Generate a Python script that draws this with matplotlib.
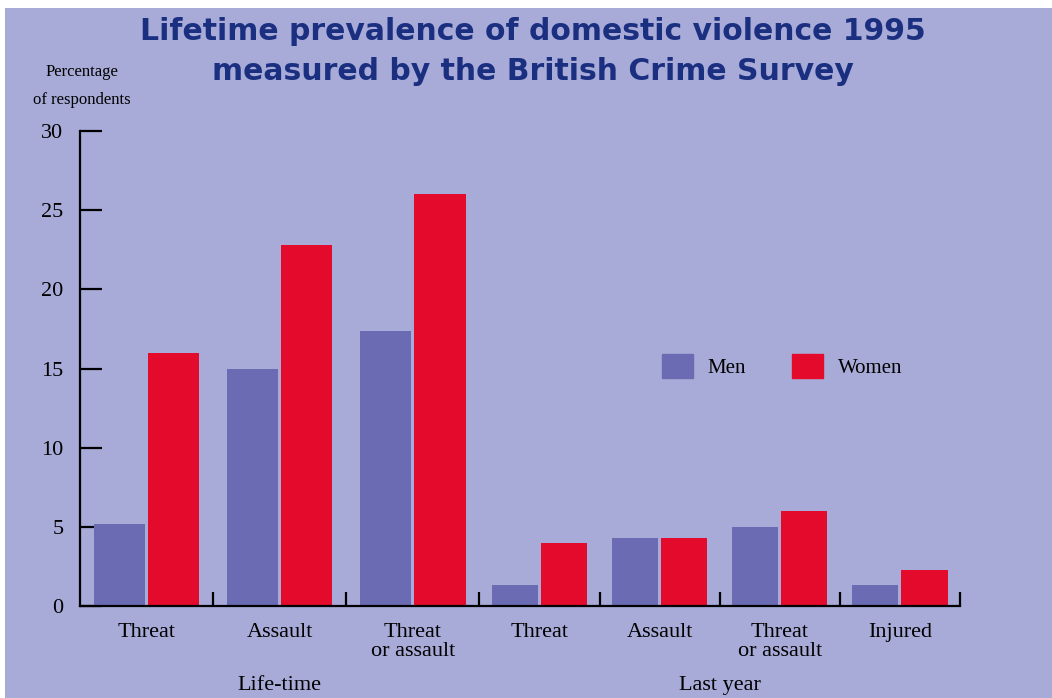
import numpy as np
import matplotlib
matplotlib.use("Agg")
import matplotlib.pyplot as plt
from matplotlib.patches import Rectangle, Patch

## Data ##
categories = ["Threat", "Assault", "Threat\nor assault",
              "Threat", "Assault", "Threat\nor assault", "Injured"]
groups = ["Life-time", "Last year"]
group_sizes = [3, 4]
men = [5.2, 15.0, 17.4, 1.3, 4.3, 5.0, 1.3]
women = [16.0, 22.8, 26.0, 4.0, 4.3, 6.0, 2.3]
yticks = [0, 5, 10, 15, 20, 25, 30]
## END Data ##

bg = "#A8ABD8"
men_col = "#6B6BB3"
women_col = "#E30A2C"
title_col = "#1B2F80"
serif = ["Liberation Serif", "DejaVu Serif"]

# slot widths: life-time slots are a little wider than last-year slots
slot_w = [1.108] * group_sizes[0] + [1.0] * group_sizes[1]
edges = np.concatenate([[0], np.cumsum(slot_w)])
centers = (edges[:-1] + edges[1:]) / 2
bar_w = 0.385 * np.array(slot_w)
gap = 0.012

fig = plt.figure(figsize=(10.52, 6.98), dpi=100)
fig.patch.set_facecolor("white")
fig.add_artist(Rectangle((5 / 1052, 0), 1, 1 - 8 / 698, transform=fig.transFigure,
                         facecolor=bg, edgecolor="none", zorder=0))

ax = fig.add_axes([80 / 1052, 1 - 606 / 698, 880 / 1052, 475 / 698])
ax.set_facecolor("none")
ax.bar(centers - bar_w / 2 - gap, men, width=bar_w, color=men_col, zorder=2)
ax.bar(centers + bar_w / 2 + gap, women, width=bar_w, color=women_col, zorder=2)

ax.set_xlim(0, edges[-1])
ax.set_ylim(0, 30)
for s in ["top", "right"]:
    ax.spines[s].set_visible(False)
for s in ["left", "bottom"]:
    ax.spines[s].set_linewidth(1.6)
    ax.spines[s].set_color("black")

ax.set_yticks(yticks)
ax.set_yticklabels([str(v) for v in yticks], family=serif, fontsize=16)
ax.tick_params(axis="y", direction="in", length=16, width=1.6, pad=12)

ax.set_xticks(centers)
ax.set_xticklabels(categories, family=serif, fontsize=16, linespacing=1.05, va="top")
ax.tick_params(axis="x", which="major", length=0, pad=12)
ax.set_xticks(edges[1:], minor=True)
ax.tick_params(axis="x", which="minor", direction="in", length=10, width=1.6)

# group labels under the category labels
start = 0
for g, n in zip(groups, group_sizes):
    gx = (edges[start] + edges[start + n]) / 2
    ax.text(gx, -5.0, g, ha="center", va="center", family=serif, fontsize=16,
            clip_on=False)
    start += n

ax.legend(handles=[Patch(color=men_col, label="Men"), Patch(color=women_col, label="Women")],
          ncol=2, frameon=False, loc="center left", bbox_to_anchor=(0.661, 0.505),
          prop={"family": serif, "size": 15}, handlelength=1.5, handleheight=1.35,
          columnspacing=2.2, handletextpad=0.7, borderpad=0, borderaxespad=0)

fig.text(533 / 1052, 1 - 32 / 698, "Lifetime prevalence of domestic violence 1995",
         ha="center", va="center", fontsize=21.5, fontweight="bold", color=title_col)
fig.text(533 / 1052, 1 - 72 / 698, "measured by the British Crime Survey",
         ha="center", va="center", fontsize=21.5, fontweight="bold", color=title_col)
fig.text(82 / 1052, 1 - 72 / 698, "Percentage", ha="center", va="center",
         family=serif, fontsize=12)
fig.text(82 / 1052, 1 - 100 / 698, "of respondents", ha="center", va="center",
         family=serif, fontsize=12)

fig.savefig("out.png", dpi=100)
